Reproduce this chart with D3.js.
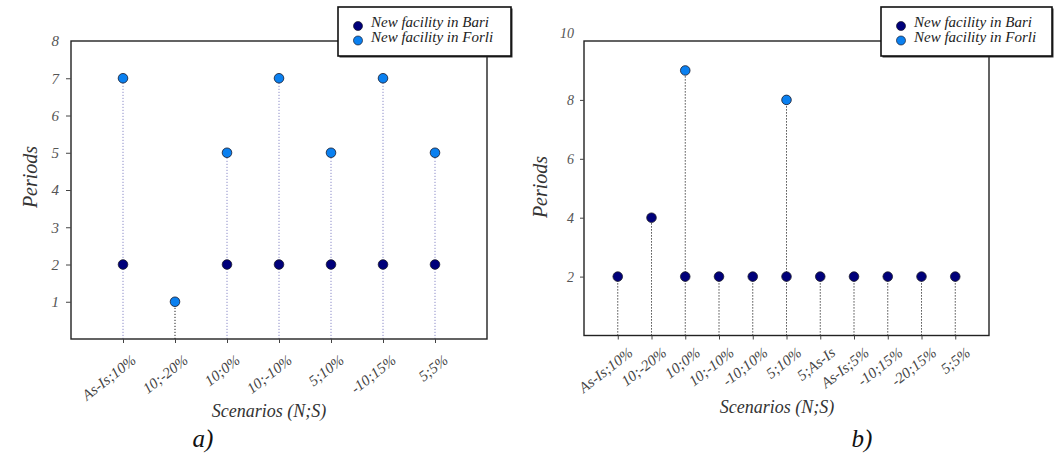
<!DOCTYPE html>
<html>
<head>
<meta charset="utf-8">
<script src="https://cdn.jsdelivr.net/npm/d3@7"></script>
<style>
  body { margin: 0; background: #fff; }
  text { font-family: 'Liberation Serif', 'DejaVu Serif', serif; font-style: italic; }
</style>
</head>
<body>
<svg id="chart" width="1058" height="457"></svg>
<script>
// panel a)
const catsA = ['As-Is;10%', '10;-20%', '10;0%', '10;-10%', '5;10%', '-10;15%', '5;5%']
const bariA = [2, null, 2, 2, 2, 2, 2]
const forliA = [7, 1, 5, 7, 5, 7, 5]
const yTicksA = [1, 2, 3, 4, 5, 6, 7, 8]

// panel b)
const catsB = ['As-Is;10%', '10;-20%', '10;0%', '10;-10%', '-10;10%', '5;10%', '5;As-Is', 'As-Is;5%', '-10;15%', '-20;15%', '5;5%']
const bariB = [2, 4, 2, 2, 2, 2, 2, 2, 2, 2, 2]
const forliB = [null, null, 9, null, null, 8, null, null, null, null, null]
const yTicksB = [2, 4, 6, 8, 10]

const seriesNames = ['New facility in Bari', 'New facility in Forli']
const colors = ['#00007a', '#0a80f0']

const svg = d3.select('#chart')

function drawPanel(cfg) {
  let g = svg.append('g')
  let x = d3.scalePoint().domain(cfg.cats).range([cfg.left, cfg.right]).padding(1)
  let y = d3.scaleLinear().domain([0, cfg.yMax]).range([cfg.bottom, cfg.top])

  // stems
  cfg.cats.forEach(function (c, i) {
    let vals = [cfg.bari[i], cfg.forli[i]].filter(v => v != null)
    let top = d3.max(vals)
    let both = cfg.bari[i] != null && cfg.forli[i] != null
    g.append('line')
      .attr('x1', x(c)).attr('x2', x(c))
      .attr('y1', y(0)).attr('y2', y(top))
      .attr('stroke', both ? cfg.stemColor : '#222')
      .attr('stroke-width', 1)
      .attr('stroke-dasharray', '1.2,1.8')
  })

  // plot frame
  g.append('rect')
    .attr('x', cfg.left).attr('y', cfg.top)
    .attr('width', cfg.right - cfg.left).attr('height', cfg.bottom - cfg.top)
    .attr('fill', 'none').attr('stroke', '#222').attr('stroke-width', 1.4)

  // y axis ticks
  let yAxis = d3.axisLeft(y).tickValues(cfg.yTicks).tickSize(cfg.tickLen).tickPadding(cfg.yPad).tickFormat(d3.format('d'))
  let ya = g.append('g').attr('transform', 'translate(' + cfg.left + ',0)').call(yAxis)
  ya.select('.domain').remove()
  ya.selectAll('line').attr('stroke', '#444')
  ya.selectAll('text').attr('fill', '#555').style('font-size', cfg.yFont + 'px')
  ya.selectAll('.tick').filter(d => d === cfg.yMax).select('line').remove()
  if (cfg.topShift) {
    ya.selectAll('.tick').filter(d => d === cfg.yMax).select('text').attr('y', -cfg.topShift)
  }

  // x axis ticks
  let xAxis = d3.axisBottom(x).tickSize(4).tickFormat('')
  let xa = g.append('g').attr('transform', 'translate(0,' + cfg.bottom + ')').call(xAxis)
  xa.select('.domain').remove()
  xa.selectAll('line').attr('stroke', '#444')
  g.selectAll('.xlab').data(cfg.cats).enter().append('text')
    .attr('class', 'xlab')
    .attr('transform', d => 'translate(' + (x(d) + cfg.labDx) + ',' + (cfg.bottom + cfg.labDy) + ') rotate(-38)')
    .attr('text-anchor', 'end')
    .attr('fill', '#444')
    .style('font-size', '15px')
    .text(d => d)

  // points
  let series = [cfg.bari, cfg.forli]
  series.forEach(function (vals, s) {
    g.selectAll('.pt' + s).data(cfg.cats.map((c, i) => ({ c: c, v: vals[i] })).filter(d => d.v != null))
      .enter().append('circle')
      .attr('cx', d => x(d.c)).attr('cy', d => y(d.v))
      .attr('r', 4.8)
      .attr('fill', colors[s])
      .attr('stroke', '#1a1a2a').attr('stroke-width', 0.8)
  })

  // axis titles
  g.append('text')
    .attr('transform', 'translate(' + cfg.yTitle[0] + ',' + cfg.yTitle[1] + ') rotate(-90)')
    .attr('text-anchor', 'middle').attr('fill', '#333')
    .style('font-size', '20px').text('Periods')
  g.append('text')
    .attr('x', cfg.xTitle[0]).attr('y', cfg.xTitle[1])
    .attr('text-anchor', 'middle').attr('fill', '#333')
    .style('font-size', '18px').text('Scenarios (N;S)')
  g.append('text')
    .attr('x', cfg.tag[0]).attr('y', cfg.tag[1])
    .attr('text-anchor', 'middle').attr('fill', '#111')
    .style('font-size', '25px').text(cfg.tagText)

  // legend
  let lg = g.append('g').attr('transform', 'translate(' + cfg.legend[0] + ',' + cfg.legend[1] + ')')
  lg.append('rect').attr('x', 1.5).attr('y', 1.5).attr('width', cfg.legend[2]).attr('height', 49).attr('fill', '#333')
  lg.append('rect').attr('width', cfg.legend[2]).attr('height', 49).attr('fill', '#fff').attr('stroke', '#111').attr('stroke-width', 1.6)
  seriesNames.forEach(function (name, s) {
    lg.append('circle').attr('cx', 20).attr('cy', 19 + s * 14.5).attr('r', 4.5)
      .attr('fill', colors[s]).attr('stroke', '#1a1a2a').attr('stroke-width', 0.7)
    lg.append('text').attr('x', 33).attr('y', 20 + s * 14.5)
      .attr('fill', '#222').style('font-size', '15px').text(name)
  })
}

drawPanel({
  cats: catsA, bari: bariA, forli: forliA, yTicks: yTicksA, yMax: 8,
  left: 71, right: 487, top: 41, bottom: 339,
  tickLen: 5, yPad: 7, yFont: 15, stemColor: '#8c8cc8',
  labDx: 14, labDy: 23,
  yTitle: [37, 177], xTitle: [269, 417], tag: [203, 447], tagText: 'a)',
  legend: [338, 7, 173]
})

drawPanel({
  cats: catsB, bari: bariB, forli: forliB, yTicks: yTicksB, yMax: 10,
  left: 584, right: 989, top: 41, bottom: 335.5,
  tickLen: 4, yPad: 6, yFont: 14, stemColor: '#222', topShift: 8,
  labDx: 16, labDy: 19,
  yTitle: [547, 187], xTitle: [777, 413], tag: [862, 447], tagText: 'b)',
  legend: [881, 7, 171]
})
</script>
</body>
</html>
